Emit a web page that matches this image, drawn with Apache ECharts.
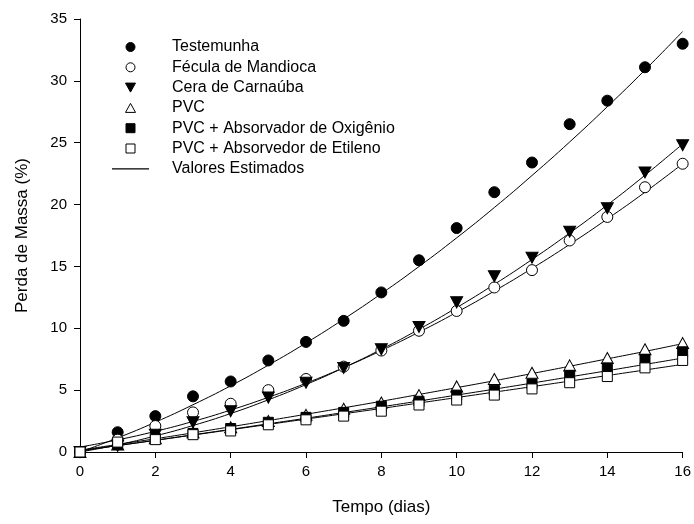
<!DOCTYPE html>
<html><head><meta charset="utf-8">
<script src="https://cdn.jsdelivr.net/npm/echarts@6/dist/echarts.min.js"></script>
<style>html,body{margin:0;padding:0;background:#fff}#c{width:694px;height:524px}</style>
</head><body><div id="c"></div>
<script>
const days = [0,1,2,3,4,5,6,7,8,9,10,11,12,13,14,15,16];
const testemunha = [0,1.6,2.9,4.5,5.7,7.4,8.9,10.6,12.9,15.5,18.1,21.0,23.4,26.5,28.4,31.1,33.0];
const fecula     = [0,1.0,2.1,3.2,3.9,5.0,5.9,6.9,8.2,9.8,11.4,13.3,14.7,17.1,19.0,21.4,23.3];
const cera       = [0,0.5,1.4,2.4,3.3,4.4,5.6,6.8,8.3,10.1,12.1,14.2,15.7,17.8,19.7,22.6,24.8];
const pvc        = [0,0.6,1.1,1.6,2.0,2.5,3.0,3.5,4.0,4.6,5.3,5.9,6.4,7.0,7.6,8.3,8.8];
const pvcOxi     = [0,0.6,1.1,1.5,1.9,2.4,2.8,3.2,3.7,4.1,4.6,5.0,5.5,6.2,6.8,7.5,8.1];
const pvcEti     = [0,0.8,1.0,1.4,1.7,2.2,2.6,2.9,3.3,3.8,4.2,4.6,5.1,5.6,6.1,6.8,7.4];
// fitted curves (Valores Estimados), read at each day
const fitTest    = [0,1.14,2.41,3.82,5.35,7.02,8.81,10.74,12.8,14.99,17.31,19.76,22.35,25.06,27.91,30.88,33.99];
const fitFec     = [0.4,0.98,1.67,2.47,3.39,4.42,5.56,6.82,8.2,9.69,11.29,13.01,14.84,16.78,18.84,21.0,23.3];
const fitCera    = [0,0.58,1.30,2.14,3.11,4.22,5.45,6.81,8.30,9.92,11.67,13.55,15.56,17.70,19.97,22.37,24.9];
const fitPvc     = [0.15,0.61,1.07,1.55,2.04,2.54,3.05,3.57,4.1,4.65,5.2,5.76,6.34,6.93,7.53,8.13,8.76];
const fitOxi     = [0.1,0.52,0.95,1.39,1.83,2.28,2.73,3.19,3.65,4.12,4.6,5.08,5.57,6.07,6.57,7.08,7.59];
const fitEti     = [0.1,0.52,0.94,1.37,1.8,2.23,2.66,3.09,3.52,3.96,4.4,4.84,5.28,5.73,6.18,6.63,7.08];
const names = ['Testemunha','Fécula de Mandioca','Cera de Carnaúba','PVC','PVC + Absorvador de Oxigênio','PVC + Absorvedor de Etileno'];
const lineName = 'Valores Estimados';
const xTicks = [0,2,4,6,8,10,12,14,16];
const yTicks = [0,5,10,15,20,25,30,35];

const FONT = 'Liberation Sans, Arial, sans-serif';
const DOWN = 'path://M0,0L10,0L5,9Z';
const UP = 'path://M5,0L10,9L0,9Z';
const SQ = 'path://M0,0h10v10h-10z';
const pts = arr => days.map((d,i)=>[d, arr[i]]);
const filled = {color:'#000', borderColor:'#000', borderWidth:1, opacity:1};
const hollow = {color:'#fff', borderColor:'#000', borderWidth:1, opacity:1};
const markerDefs = [
  {data: testemunha, symbol:'circle', size:11, style: filled},
  {data: fecula, symbol:'circle', size:11, style: hollow},
  {data: cera, symbol:DOWN, size:[12,11], style: filled},
  {data: pvc, symbol:UP, size:[12,11], style: hollow},
  {data: pvcOxi, symbol:SQ, size:10, style: filled},
  {data: pvcEti, symbol:SQ, size:10, style: hollow}
];
const fits = [fitTest, fitFec, fitCera, fitPvc, fitOxi, fitEti];

const series = [];
fits.forEach(f => series.push({
  name: lineName, type:'line', data: pts(f), smooth: true, showSymbol:false, symbol:'none',
  lineStyle:{color:'#000', width:1}, itemStyle:{color:'#000'}, z:2, animation:false
}));
markerDefs.forEach((m,i) => series.push({
  name: names[i], type:'scatter', data: pts(m.data), symbol: m.symbol, symbolSize: m.size,
  itemStyle: m.style, z:3, animation:false
}));

const legendData = markerDefs.map((m,i)=>({name: names[i], icon: m.symbol, itemStyle: m.style}));
legendData.push({name: lineName, icon:'path://M0,0h40v1.3h-40z', itemStyle:{color:'#000', borderWidth:0}});

const chart = echarts.init(document.getElementById('c'));
chart.setOption({
  backgroundColor:'#fff',
  animation:false,
  grid:{left:80, right:10, top:19, bottom:72},
  legend:{
    orient:'vertical', left:107, top:34, data: legendData,
    itemWidth:37, itemHeight:9, itemGap:4.3,
    textStyle:{fontFamily:FONT, fontSize:16, color:'#000', padding:[0,0,0,18]}, selectedMode:false
  },
  xAxis:{
    type:'value', min:0, max:16, interval:2,
    name:'Tempo (dias)', nameLocation:'middle', nameGap:47,
    nameTextStyle:{fontFamily:FONT, fontSize:17, color:'#000'},
    axisLine:{show:true, lineStyle:{color:'#000', width:1}},
    axisTick:{show:true, length:6, lineStyle:{color:'#000'}},
    axisLabel:{fontFamily:FONT, fontSize:15, color:'#000', margin:12},
    splitLine:{show:false}
  },
  yAxis:{
    type:'value', min:0, max:35, interval:5,
    name:'Perda de Massa (%)', nameLocation:'middle', nameGap:49,
    nameTextStyle:{fontFamily:FONT, fontSize:17, color:'#000'},
    axisLine:{show:true, lineStyle:{color:'#000', width:1}},
    axisTick:{show:true, length:6, lineStyle:{color:'#000'}},
    axisLabel:{fontFamily:FONT, fontSize:15, color:'#000', margin:13},
    splitLine:{show:false}
  },
  series
});
</script></body></html>
